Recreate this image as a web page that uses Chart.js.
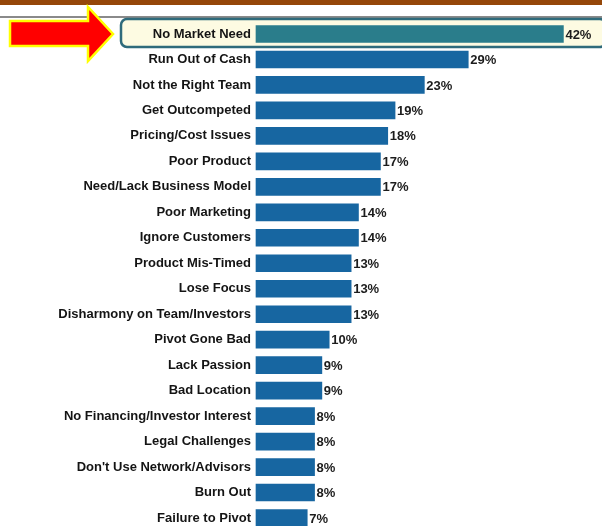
<!DOCTYPE html>
<html>
<head>
<meta charset="utf-8">
<script src="https://cdn.jsdelivr.net/npm/chart.js@4/dist/chart.umd.min.js"></script>
<style>
  html, body { margin: 0; padding: 0; background: #fff; }
  #wrap { width: 602px; height: 526px; }
</style>
</head>
<body>
<div id="wrap"><canvas id="myChart" width="602" height="526"></canvas></div>
<script>
var ctx = document.getElementById('myChart').getContext('2d');

// reasons startups fail, share of answers (%)
const reasons = [
    'No Market Need', 'Run Out of Cash', 'Not the Right Team', 'Get Outcompeted',
    'Pricing/Cost Issues', 'Poor Product', 'Need/Lack Business Model', 'Poor Marketing',
    'Ignore Customers', 'Product Mis-Timed', 'Lose Focus', 'Disharmony on Team/Investors',
    'Pivot Gone Bad', 'Lack Passion', 'Bad Location', 'No Financing/Investor Interest',
    'Legal Challenges', "Don't Use Network/Advisors", 'Burn Out', 'Failure to Pivot'
];
const shares = [42, 29, 23, 19, 18, 17, 17, 14, 14, 13, 13, 13, 10, 9, 9, 8, 8, 8, 8, 7];
const highlighted = [0];

const FONT = '"Liberation Sans", Arial, sans-serif';

// brown header band, rule, yellow box round the top reason and the red arrow
const decorations = {
    id: 'decorations',
    beforeDraw(chart) {
        const c = chart.ctx;
        const w = chart.width;
        c.save();
        c.fillStyle = '#954709';
        c.fillRect(0, 0, w, 5);
        c.fillStyle = '#8a8a8a';
        c.fillRect(0, 16, w, 2);

        const y0 = chart.scales.y.getPixelForValue(highlighted[0]);
        const top = y0 - 15, bot = y0 + 13;
        c.beginPath();
        c.roundRect(121, top, w - 121 + 4, bot - top, 6);
        c.fillStyle = '#fdfbe2';
        c.fill();
        c.lineWidth = 2.5;
        c.strokeStyle = '#2f6b7b';
        c.stroke();

        // arrow pointing at the box
        c.beginPath();
        c.moveTo(10, y0 - 13);
        c.lineTo(88, y0 - 13);
        c.lineTo(88, y0 - 27);
        c.lineTo(113, y0);
        c.lineTo(88, y0 + 27);
        c.lineTo(88, y0 + 12);
        c.lineTo(10, y0 + 12);
        c.closePath();
        c.fillStyle = '#ff0000';
        c.fill();
        c.lineWidth = 2.5;
        c.lineJoin = 'miter';
        c.strokeStyle = '#ffff00';
        c.stroke();
        c.restore();
    }
};

// percentage text at the end of each bar
const valueLabels = {
    id: 'valueLabels',
    afterDatasetsDraw(chart) {
        const c = chart.ctx;
        const meta = chart.getDatasetMeta(0);
        c.save();
        c.font = 'bold 13px ' + FONT;
        c.fillStyle = '#1c1c1c';
        c.textBaseline = 'middle';
        c.textAlign = 'left';
        meta.data.forEach((bar, i) => {
            c.fillText(shares[i] + '%', bar.x + 2, bar.y + 1);
        });
        c.restore();
    }
};

const chart = new Chart(ctx, {
    type: 'bar',
    data: {
        labels: reasons,
        datasets: [{
            label: 'Share',
            data: shares,
            backgroundColor: shares.map((v, i) => highlighted.includes(i) ? '#2a7d8b' : '#1766a1'),
            borderWidth: 0,
            barThickness: 17,
            clip: false
        }]
    },
    options: {
        indexAxis: 'y',
        responsive: false,
        animation: false,
        layout: { padding: { top: 34, bottom: 8, left: 0, right: 2 } },
        plugins: {
            legend: { display: false },
            tooltip: { enabled: false }
        },
        scales: {
            x: {
                display: false,
                min: 0,
                max: 47
            },
            y: {
                offset: false,
                border: { display: false },
                grid: { display: false, drawTicks: false },
                afterFit(scale) {
                    scale.width = 256;
                    // first/last rows sit on the chart area edges
                    scale.paddingTop = 0;
                    scale.paddingBottom = 0;
                },
                ticks: {
                    padding: 5,
                    color: '#141414',
                    font: { family: FONT, size: 13, weight: 'bold' },
                    autoSkip: false
                }
            }
        }
    },
    plugins: [decorations, valueLabels]
});
</script>
</body>
</html>
